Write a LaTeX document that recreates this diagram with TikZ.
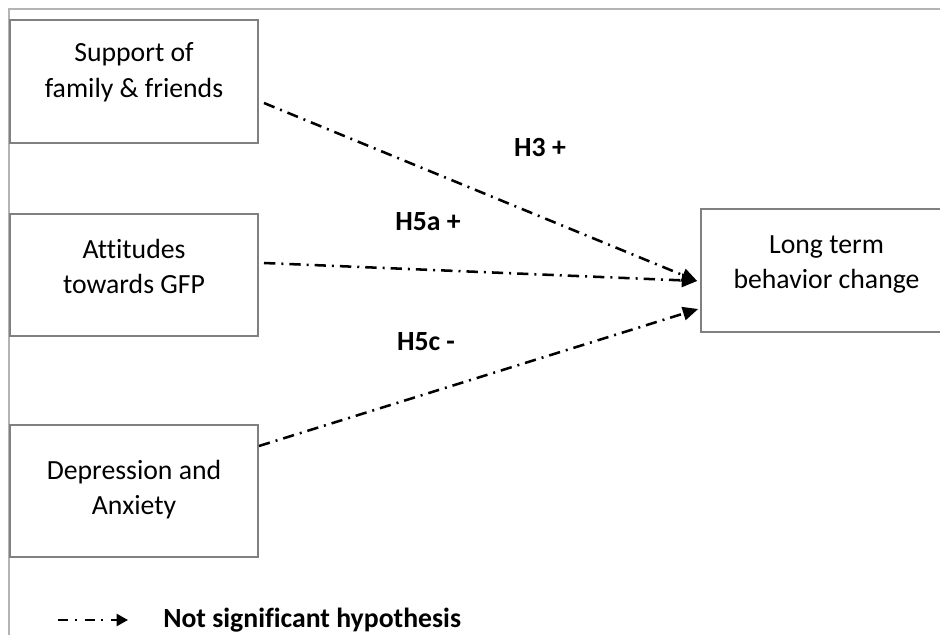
\documentclass[tikz,border=0pt]{standalone}
\usepackage{fontspec}
\setmainfont[Ligatures=CommonOff]{Carlito}
\usetikzlibrary{arrows.meta,calc}

\begin{document}
\begin{tikzpicture}[x=0.75pt,y=-0.75pt,
  every node/.style={font=\fontsize{20.8pt}{26.6pt}\selectfont},
  boxnode/.style={draw=boxgray,line width=1.5pt,rectangle,inner sep=0pt,
    minimum width=186pt,minimum height=#1},
  boxnode/.default=92pt,
  txt/.style={align=center,inner sep=0pt},
  hyp/.style={font=\fontsize{20.8pt}{26.6pt}\selectfont\bfseries,inner sep=0pt},
  nsig/.style={line width=1.9pt,dash pattern=on 8.5pt off 4.5pt on 1.5pt off 4.5pt,
    -{Triangle[length=11.5pt,width=10pt]}},
]
\definecolor{boxgray}{HTML}{808080}
\definecolor{framegray}{HTML}{B4B4B4}
\useasboundingbox (0,0) rectangle (940,635);
\clip (0,0) rectangle (940,635);

% page frame
\draw[framegray,line width=1.5pt] (9,635) -- (9,9) -- (940,9);

% boxes
\node[boxnode=92.25pt] (sup) at (134,81.5) {};
\node[boxnode=91.5pt]  (att) at (134,275) {};
\node[boxnode=99pt]    (dep) at (134,491) {};
\node[boxnode=92.25pt,minimum width=188pt] (lt) at (826.5,270.5) {};

% box texts
\node[txt] (supt) at (134,72.2)  {Support of\\family \& friends};
\node[txt] (attt) at (134,266.5) {Attitudes\\towards GFP};
\node[txt] (dept) at (134,489.7) {Depression and\\Anxiety};
\node[txt] (ltt)  at (826.5,264.7) {Long term\\behavior change};

% hypothesis paths
\coordinate (endA) at ($(lt.west)+(-3,10.5)$);
\coordinate (endB) at ($(lt.west)+(-2,38.5)$);
\draw[nsig] ($(sup.east)+(5,21.5)$) -- (endA);
\draw[nsig] ($(att.east)+(5,-12)$) -- (endA);
\draw[nsig] ($(dep.east)+(0,-45)$) -- (endB);

% hypothesis labels
\node[hyp] (h3)  at (540,148) {H3 +};
\node[hyp] (h5a) at (428,222) {H5a +};
\node[hyp] (h5c) at (426,342) {H5c -};

% legend
\coordinate (lgA) at (58,620);
\coordinate (lgB) at (128,620);
\draw[line width=1.6pt,dash pattern=on 7.5pt off 5pt on 1.5pt off 6pt,
  -{Triangle[length=8.5pt,width=9pt]}] (lgA) -- (lgB);
\node[hyp,anchor=west] (lgt) at (163,620) {Not significant hypothesis};
\end{tikzpicture}
\end{document}
